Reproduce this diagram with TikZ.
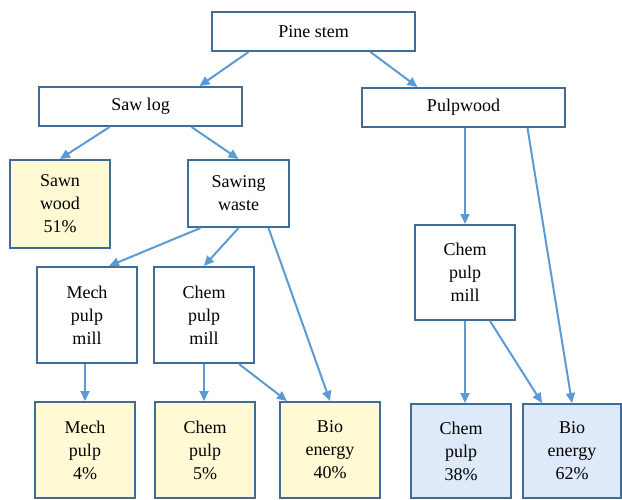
\documentclass[tikz,border=0pt]{standalone}
\usepackage{fontspec}
\setmainfont{Liberation Serif}
\usetikzlibrary{positioning,calc,arrows.meta}
\definecolor{linkblue}{RGB}{91,155,213}
\definecolor{edgeblue}{RGB}{65,108,150}
\definecolor{paleyellow}{RGB}{255,250,212}
\definecolor{paleblue}{RGB}{222,233,249}
\tikzset{
  block/.style={draw=edgeblue, line width=2pt, rectangle, align=center, inner sep=0pt,
    font=\fontsize{18}{23}\selectfont},
  wide/.style={block, minimum width=203pt, minimum height=39pt},
  tall/.style={block, minimum width=100pt, minimum height=96pt},
  endy/.style={tall, fill=paleyellow},
  endb/.style={tall, fill=paleblue},
  to/.style={-{Triangle[length=10pt,width=9pt]}, draw=linkblue, line width=2pt}
}
\begin{document}
\begin{tikzpicture}[x=1pt,y=-1pt]
	\useasboundingbox (0,0) rectangle (622,499);
	\node (pine) [wide] at (313.5,31.5) {Pine stem};
	\node (sawlog) [wide] at (140.5,106.5) {Saw log};
	\node (pulpwood) [wide] at (463.5,107.5) {Pulpwood};
	\node (sawn) [endy, minimum height=88pt] at (60,204) {Sawn\\wood\\51\%};
	\node (waste) [block, minimum width=101pt, minimum height=67pt] at (238.5,193.5) {Sawing\\waste};
	\node (mechmill) [tall] at (87,315) {Mech\\pulp\\mill};
	\node (chemmill) [tall] at (204,315) {Chem\\pulp\\mill};
	\node (chemmillR) [tall, minimum height=95pt] at (465,272.5) {Chem\\pulp\\mill};
	\node (mechpulp) [endy] at (85,450) {Mech\\pulp\\4\%};
	\node (chempulp) [endy] at (205,450) {Chem\\pulp\\5\%};
	\node (bio) [endy] at (330,450) {Bio\\energy\\40\%};
	\node (chempulpR) [endb, minimum height=94pt] at (461,451) {Chem\\pulp\\38\%};
	\node (bioR) [endb, minimum height=94pt, minimum width=98pt] at (572,451) {Bio\\energy\\62\%};
	\draw [to] ([xshift=-65pt]pine.south) -- ([xshift=59pt]sawlog.north);
	\draw [to] ([xshift=57pt]pine.south) -- ([xshift=-46pt]pulpwood.north);
	\draw [to] ([xshift=-31pt]sawlog.south) -- (sawn.north);
	\draw [to] ([xshift=51pt]sawlog.south) -- (waste.north);
	\draw [to] (chemmillR.north |- pulpwood.south) -- (chemmillR.north);
	\draw [to] ([xshift=64pt]pulpwood.south) -- (bioR.north);
	\draw [to] ([xshift=-38pt]waste.south) -- ([xshift=22pt]mechmill.north);
	\draw [to] (waste.south) -- (chemmill.north);
	\draw [to] ([xshift=30pt]waste.south) -- (bio.north);
	\draw [to] (mechpulp.north |- mechmill.south) -- (mechpulp.north);
	\draw [to] (chemmill.south) -- (chemmill.south |- chempulp.north);
	\draw [to] ([xshift=35pt]chemmill.south) -- ([xshift=8pt]bio.north west);
	\draw [to] (chemmillR.south) -- (chemmillR.south |- chempulpR.north);
	\draw [to] ([xshift=25pt]chemmillR.south) -- ([xshift=-30pt]bioR.north);
\end{tikzpicture}
\end{document}
